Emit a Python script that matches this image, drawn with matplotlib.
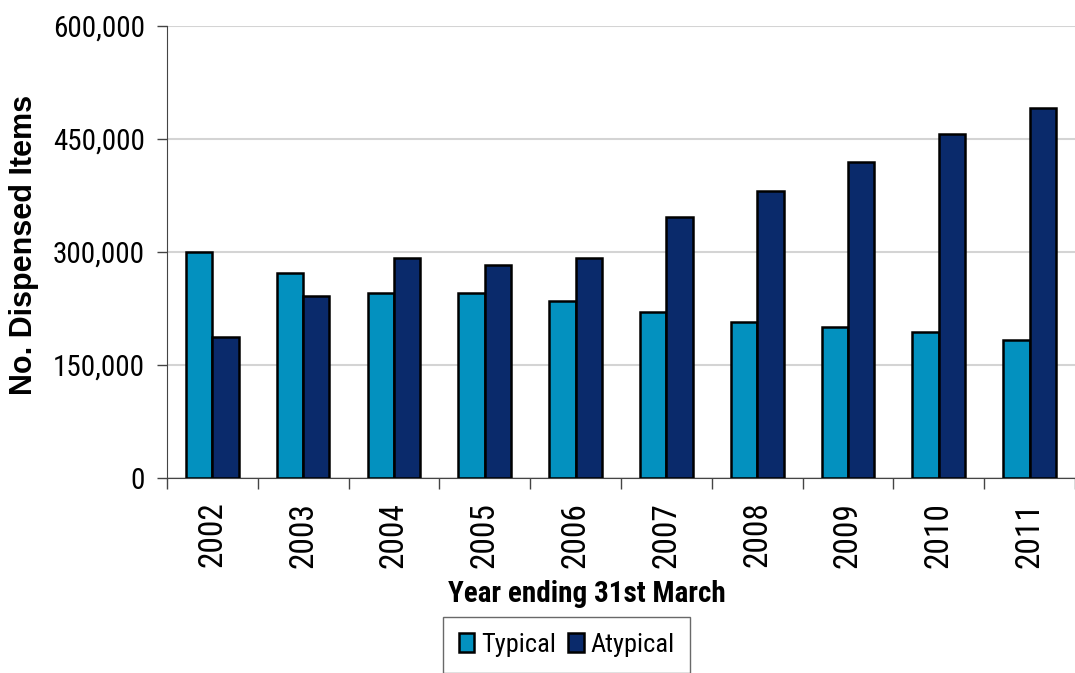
import numpy as np
import matplotlib
matplotlib.use("Agg")
import matplotlib.pyplot as plt
from matplotlib.ticker import FuncFormatter

years = ["2002", "2003", "2004", "2005", "2006", "2007", "2008", "2009",
         "2010", "2011"]
typical = [300000, 272000, 245000, 245000, 234500, 221000, 207000, 200000,
           193500, 183000]
atypical = [187000, 241500, 292000, 283000, 292000, 347000, 381500, 419500,
            456500, 491000]

narrow = ["Roboto Condensed", "DejaVu Sans"]
plt.rcParams["font.family"] = narrow

fig = plt.figure(figsize=(10.75, 6.73), dpi=100)
ax = fig.add_axes([0.1553, 0.2897, 0.8447, 0.6717])

x = np.arange(len(years))
w = 0.29
ax.bar(x - w / 2, typical, w, color="#0391bf", edgecolor="black",
       linewidth=1.8, label="Typical", zorder=3)
ax.bar(x + w / 2, atypical, w, color="#0a2a6b", edgecolor="black",
       linewidth=1.8, label="Atypical", zorder=3)

ax.set_xlim(-0.5, len(years) - 0.5)
ax.set_ylim(0, 600000)
ax.set_yticks([0, 150000, 300000, 450000, 600000])
ax.yaxis.set_major_formatter(FuncFormatter(lambda v, p: "{:,.0f}".format(v)))
ax.yaxis.grid(True, color="#d4d4d4", linewidth=1.5, zorder=0)

# category ticks sit on the group boundaries, labels in the middle
ax.set_xticks(np.arange(-0.5, len(years) + 0.5, 1.0))
ax.set_xticklabels([])
ax.set_xticks(x, minor=True)
ax.set_xticklabels(years, minor=True, rotation=90, fontsize=24)
ax.tick_params(axis="x", which="minor", length=0, pad=17)
ax.tick_params(axis="x", which="major", length=8, width=1, color="#444444")
ax.tick_params(axis="y", labelsize=21, length=7, width=1, color="#444444",
               pad=9)

for s in ["top", "right"]:
    ax.spines[s].set_visible(False)
ax.spines["left"].set_color("#444444")
ax.spines["bottom"].set_color("#444444")

ax.set_xlabel("Year ending 31st March", fontsize=21, fontweight="bold",
              va="top")
ax.xaxis.set_label_coords(0.4626, -0.226)
ax.set_ylabel("No. Dispensed Items", fontsize=22, fontweight="bold",
              family=["Liberation Sans", "DejaVu Sans"], va="center")
ax.yaxis.set_label_coords(-0.157, 0.515)

leg = fig.legend(loc="upper center", bbox_to_anchor=(0.527, 0.083), ncol=2,
                 fontsize=19, frameon=True, fancybox=False, handlelength=0.6,
                 handleheight=0.75, handletextpad=0.25, columnspacing=0.45,
                 borderpad=0.6, borderaxespad=0)
leg.get_frame().set_edgecolor("#444444")
leg.get_frame().set_linewidth(1)

fig.savefig("out.png", dpi=100)
